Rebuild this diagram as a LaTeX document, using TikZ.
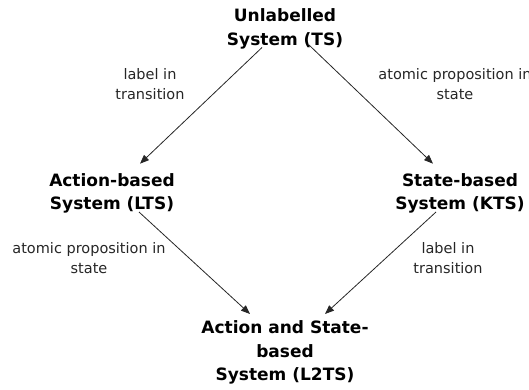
\documentclass[tikz,border=0pt]{standalone}
\usepackage{fontspec}
\setmainfont{DejaVu Sans}
\usetikzlibrary{arrows.meta,calc}
\begin{document}
\begin{tikzpicture}[x=1pt,y=1pt,
  sysbox/.style={inner sep=0pt, align=center, text=black,
    font=\fontsize{17}{23.3}\selectfont\bfseries},
  edgetext/.style={inner sep=0pt, align=center, text=black!85,
    font=\fontsize{14.5}{20}\selectfont},
  arr/.style={draw=black!85, line width=0.8pt,
    -{Triangle[length=9pt,width=7pt]}}]
\clip (0,0) rectangle (529,389);

% the four kinds of system
\node[sysbox] (ts)   at (285,360.1) {Unlabelled\\System (TS)};
\node[sysbox] (lts)  at (112,195.8) {Action-based\\System (LTS)};
\node[sysbox] (kts)  at (460,195.8) {State-based\\System (KTS)};
\node[sysbox] (l2ts) at (285,36.5)  {Action and State-\\based\\System (L2TS)};

% what each step adds
\node[edgetext] (tl) at (150,304.5) {label in\\transition};
\node[edgetext] (tr) at (455,304.5) {atomic proposition in\\state};
\node[edgetext] (bl) at (89,130.5)  {atomic proposition in\\state};
\node[edgetext] (br) at (448,130.5) {label in\\transition};

% refinement arrows
\draw[arr] ($(ts.center)+(-23,-18.6)$) -- ($(lts.center)+(28,29.5)$);
\draw[arr] ($(ts.center)+(24,-16.1)$)  -- ($(kts.center)+(-27,29.5)$);
\draw[arr] ($(lts.center)+(27,-18.8)$) -- ($(l2ts.center)+(-35,38.5)$);
\draw[arr] ($(kts.center)+(-24,-18.8)$) -- ($(l2ts.center)+(40,38.5)$);
\end{tikzpicture}
\end{document}
